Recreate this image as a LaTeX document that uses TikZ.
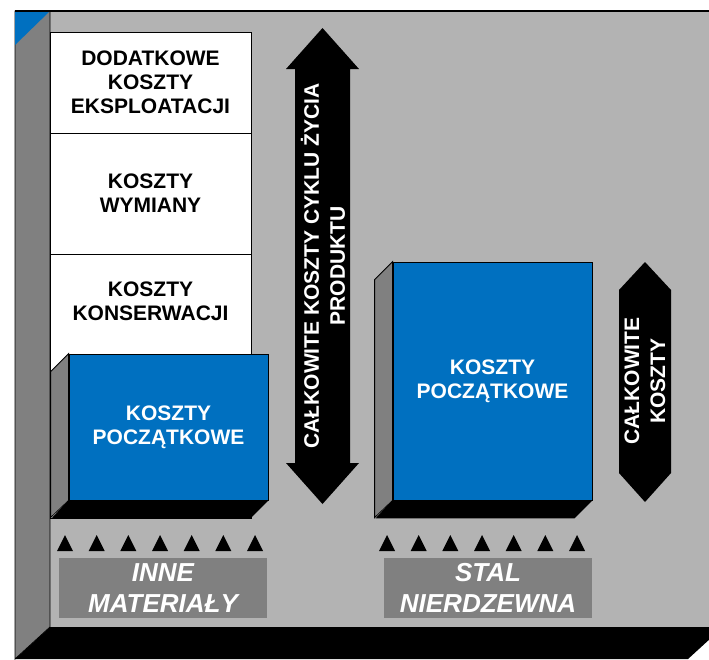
\documentclass[tikz,border=0pt]{standalone}
\usepackage{fontspec}
\setmainfont{Liberation Sans}
\usepackage{tikz}
\definecolor{wallgray}{RGB}{179,179,179}
\definecolor{sidegray}{RGB}{128,128,128}
\definecolor{costblue}{RGB}{0,112,192}

\begin{document}
\begin{tikzpicture}[x=1pt,y=-1pt,
		wall/.style={draw=black,line width=0.8pt},
		costtext/.style={font=\fontsize{21}{24}\selectfont\bfseries,align=center},
		extrabox/.style={costtext,draw=black,fill=white,line width=0.8pt,minimum width=201pt},
		costbox/.style={costtext,draw=black,fill=costblue,text=white,line width=0.8pt,minimum width=199pt},
		arrowtext/.style={text=white,font=\fontsize{21}{26}\selectfont\bfseries,align=center,rotate=90},
		matlabel/.style={fill=sidegray,text=white,font=\fontsize{26}{31}\selectfont\bfseries\itshape,align=center,inner sep=0pt,minimum width=208pt,minimum height=60pt}]
			\useasboundingbox (0,0) rectangle (709,659);
			\begin{scope}
				\clip (0,0) rectangle (709,659);
				\fill[wallgray] (50,11) rectangle (709,627);
				\fill[black] (50,627) -- (723,627) -- (688,659) -- (15,659) -- cycle;
			\end{scope}
			\draw[wall,fill=sidegray] (15,11) -- (50,11) -- (50,627) -- (15,659) -- cycle;
			\fill[costblue] (15,11) -- (50,11) -- (15,45) -- cycle;
			\draw[line width=1.5pt] (15,11) -- (709,11);
			
			\node[extrabox,minimum height=101pt] (eksploatacja) at (150.5,82.5) {DODATKOWE\\KOSZTY\\EKSPLOATACJI};
			\node[extrabox,minimum height=121pt] (wymiana) at (150.5,193.5) {KOSZTY\\WYMIANY};
			\draw[wall,fill=white] (50,254) rectangle (251,518);
			\node[costtext] (konserwacja) at (150.5,301) {KOSZTY\\KONSERWACJI};
			
			\node[costbox,minimum height=146pt] (poczatkowe) at (168.5,427) {KOSZTY\\POCZĄTKOWE};
			\draw[wall,fill=sidegray] (poczatkowe.north west) -- ++(-18,18) -- ++(0,146) -- (poczatkowe.south west) -- cycle;
			\fill (poczatkowe.south west) -- (poczatkowe.south east) -- ++(-18,18) -- ++(-199,0) -- cycle;
			
			\node[costbox,minimum height=238pt] (poczatkowestal) at (492.5,381) {KOSZTY\\POCZĄTKOWE};
			\draw[wall,fill=sidegray] (poczatkowestal.north west) -- ++(-18,18) -- ++(0,238) -- (poczatkowestal.south west) -- cycle;
			\fill (poczatkowestal.south west) -- (poczatkowestal.south east) -- ++(-18,18) -- ++(-199,0) -- cycle;
			
			\fill (322.5,28) -- (359,69) -- (350,69) -- (350,463) -- (359,463) -- (322.5,504) -- (286,463) -- (295,463) -- (295,69) -- (286,69) -- cycle;
			\node[arrowtext] (cyklzycia) at (323,266) {CAŁKOWITE KOSZTY CYKLU ŻYCIA\\PRODUKTU};
			\fill (645,262) -- (671,290) -- (671,473) -- (645,502) -- (619,473) -- (619,290) -- cycle;
			\node[arrowtext] (calkowite) at (645,381) {CAŁKOWITE\\KOSZTY};
			
			\foreach \i in {0,...,6} {
				\fill ({65+31.67*\i-8},551) -- ++(16,0) -- ++(-8,-16) -- cycle;
				\fill ({387+31.67*\i-8},551) -- ++(16,0) -- ++(-8,-16) -- cycle;
			}
			\node[matlabel] (inne) at (163,588) {INNE\\MATERIAŁY};
			\node[matlabel] (stal) at (488,588) {STAL\\NIERDZEWNA};
\end{tikzpicture}
\end{document}
